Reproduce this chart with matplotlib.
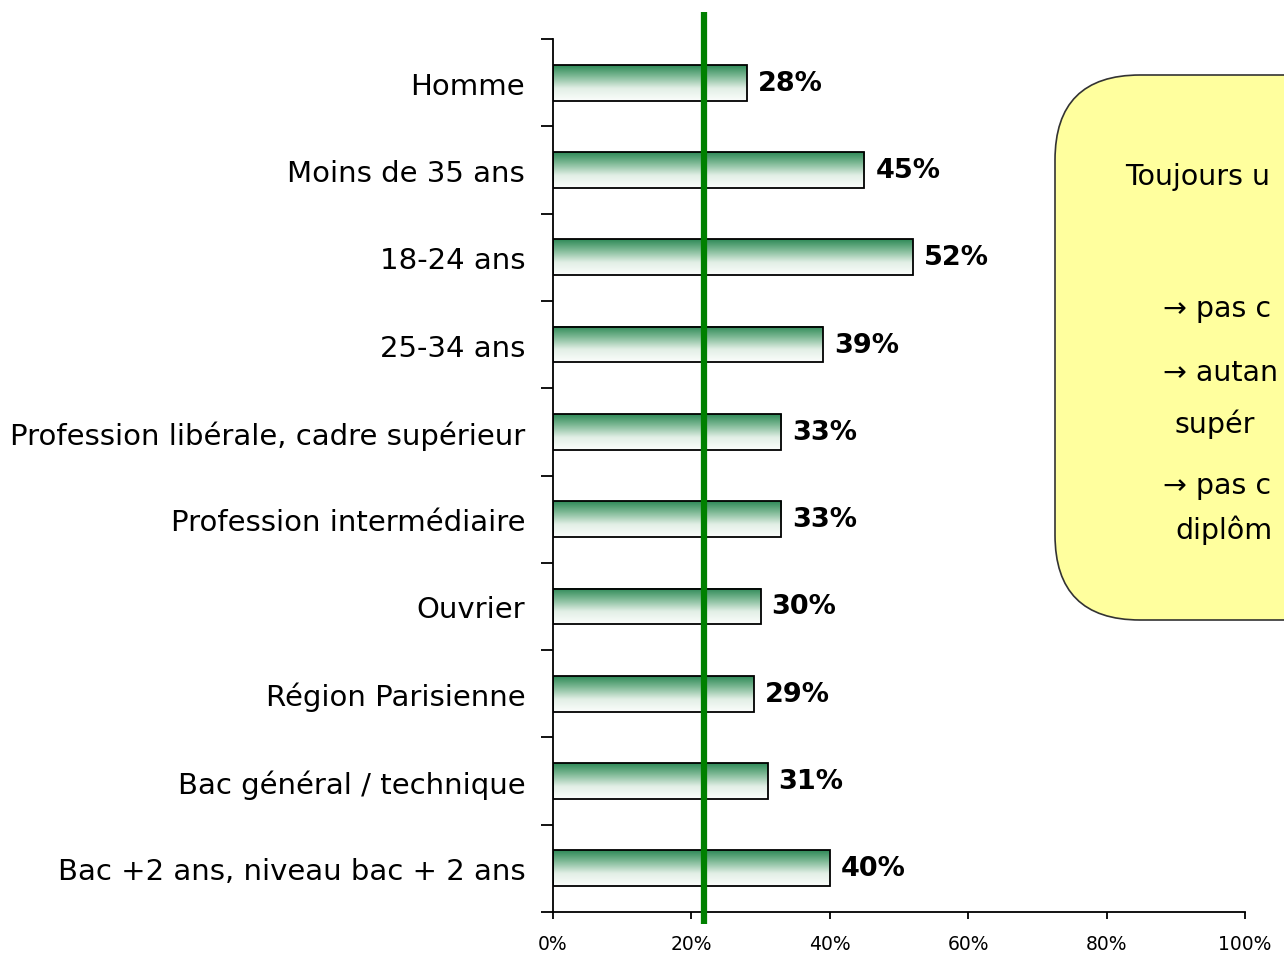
import numpy as np
import matplotlib
matplotlib.use("Agg")
import matplotlib.pyplot as plt
from matplotlib.colors import LinearSegmentedColormap
from matplotlib.patches import FancyBboxPatch

categories = [
    "Homme",
    "Moins de 35 ans",
    "18-24 ans",
    "25-34 ans",
    "Profession libérale, cadre supérieur",
    "Profession intermédiaire",
    "Ouvrier",
    "Région Parisienne",
    "Bac général / technique",
    "Bac +2 ans, niveau bac + 2 ans",
]
values = [28, 45, 52, 39, 33, 33, 30, 29, 31, 40]
reference_line = 21.8
x_ticks = [0, 20, 40, 60, 80, 100]
x_tick_labels = ["0%", "20%", "40%", "60%", "80%", "100%"]

box_lines = [
    (1125, 177, "Toujours u"),
    (1163, 309, "→ pas c"),
    (1163, 373, "→ autan"),
    (1175, 424, "supér"),
    (1163, 486, "→ pas c"),
    (1175, 530, "diplôm"),
]

W, H = 1284, 954
fig = plt.figure(figsize=(W / 100, H / 100), dpi=100)
ax = fig.add_axes([553 / W, 41 / H, (1245 - 553) / W, (913 - 40) / H])

# gradient used to fill each bar (dark green on top, white at bottom)
cmap = LinearSegmentedColormap.from_list(
    "bar_grad", [(0.0, "#2F8A58"), (0.3, "#7DB894"), (0.65, "#E2EFE6"), (1.0, "#FBFDFB")]
)
grad = np.linspace(0, 1, 64).reshape(-1, 1)

bar_h = 0.41
n = len(categories)
ax.set_xlim(0, 100)
ax.set_ylim(n - 0.5, -0.5)

for i, v in enumerate(values):
    ax.imshow(grad, cmap=cmap, aspect="auto", interpolation="bilinear",
              extent=[0, v, i + bar_h / 2, i - bar_h / 2], zorder=2)
    ax.barh(i, v, height=bar_h, facecolor="none", edgecolor="black",
            linewidth=1.3, zorder=3)
    ax.text(v + 1.6, i, f"{v}%", va="center", ha="left", fontsize=19.5,
            fontweight="bold", color="black")

ax.set_xlim(0, 100)
ax.set_ylim(n - 0.5, -0.5)

ax.axvline(reference_line, ymin=-0.014, ymax=1.031, color="#008000",
           linewidth=4.5, clip_on=False, zorder=4, solid_capstyle="butt")

ax.set_yticks(range(n))
ax.set_yticklabels(categories, fontsize=21)
ax.tick_params(axis="y", which="major", length=0, pad=20)
ax.set_yticks(np.arange(-0.5, n, 1.0), minor=True)
ax.tick_params(axis="y", which="minor", length=9, width=1.3, direction="out")

ax.set_xticks(x_ticks)
ax.set_xticklabels(x_tick_labels, fontsize=13.5)
ax.tick_params(axis="x", length=5, width=1.3, direction="out", pad=11)

for side in ["top", "right"]:
    ax.spines[side].set_visible(False)
for side in ["left", "bottom"]:
    ax.spines[side].set_linewidth(1.3)

# overlay in pixel coordinates for the yellow comment box
ov = fig.add_axes([0, 0, 1, 1], zorder=5)
ov.set_xlim(0, W)
ov.set_ylim(H, 0)
ov.axis("off")
ov.patch.set_alpha(0)
box = FancyBboxPatch((1055, 76), 400, 545, boxstyle="round,pad=0,rounding_size=85",
                     facecolor="#FFFF9E", edgecolor="#333333", linewidth=1.2)
ov.add_patch(box)
for x, y, s in box_lines:
    ov.text(x, y, s, fontsize=20.5, va="center", ha="left", color="black")

fig.savefig("out.png", dpi=100)
